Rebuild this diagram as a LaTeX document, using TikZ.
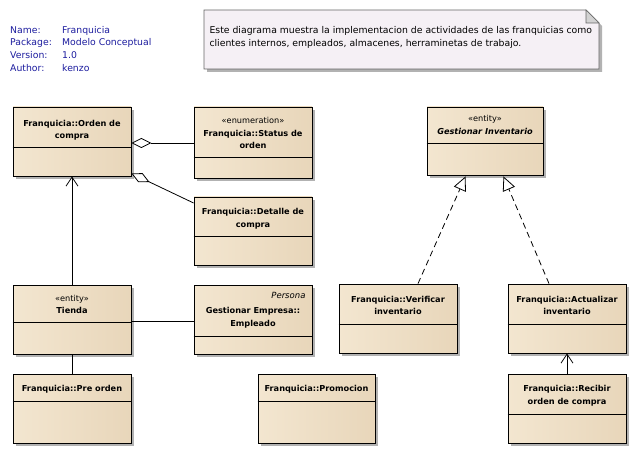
\documentclass[tikz,border=0pt]{standalone}
\usepackage{fontspec}
\setmainfont{DejaVu Sans}
\usetikzlibrary{shadows,arrows.meta}

\definecolor{cajaizq}{HTML}{F3E6D0}
\definecolor{cajamed}{HTML}{FAF2E6}
\definecolor{cajader}{HTML}{E8D6BA}
\definecolor{notafondo}{HTML}{F5F0F5}
\definecolor{azulmeta}{HTML}{1C1C9E}

\begin{document}
\begin{tikzpicture}[x=1pt,y=-1pt,
  clase/.style={draw, line width=0.8pt, minimum width=118, minimum height=69,
    left color=cajaizq, middle color=cajamed, right color=cajader,
    drop shadow={shadow xshift=3pt, shadow yshift=-3pt, fill=black, opacity=0.3}},
  titulo/.style={align=center, font=\fontsize{8.2}{12.5}\selectfont\bfseries},
  linea/.style={line width=0.8pt},
  agregacion/.style={line width=0.8pt, {Diamond[fill=white, length=20pt, width=10pt, line width=0.8pt]}-},
  asociacion/.style={line width=0.8pt, -{Straight Barb[length=9pt, width=12pt, line width=0.8pt]}},
  realizacion/.style={line width=0.8pt, dash pattern=on 6pt off 4pt,
    -{Triangle[open, fill=white, length=14pt, width=13pt, line width=0.8pt, sep]}}]
\useasboundingbox (0,0) rectangle (636,454);

% datos del diagrama
\node[anchor=north west, inner sep=0, text=azulmeta, font=\fontsize{9.3}{12.7}\selectfont] (meta) at (10,24)
  {\begin{tabular}{@{}p{52pt}@{}l@{}}
  Name: & Franquicia\\
  Package: & Modelo Conceptual\\
  Version: & 1.0\\
  Author: & kenzo
  \end{tabular}};

% nota
\path[draw=gray!80!black, line width=0.8pt, fill=notafondo,
  drop shadow={shadow xshift=3pt, shadow yshift=-3pt, fill=black, opacity=0.3}]
  (204,10) -- (586,10) -- (599,23) -- (599,69) -- (204,69) -- cycle;
\path[draw=gray!80!black, line width=0.6pt, fill=gray!35] (586,10) -- (586,23) -- (599,23) -- cycle;
\node[anchor=west, align=left, font=\fontsize{9.3}{12.5}\selectfont] (nota) at (206,37.5)
  {Este diagrama muestra la implementacion de actividades de las franquicias como\\
   clientes internos, empleados, almacenes, herraminetas de trabajo.};

% clases
\node[clase] (orden) at (72,141.5) {};
\node[clase, minimum height=71] (status) at (253,142.5) {};
\node[clase, minimum height=68] (detalle) at (253,231) {};
\node[clase, minimum width=116, minimum height=68] (gestionar) at (485,141) {};
\node[clase] (tienda) at (72,319.5) {};
\node[clase] (empleado) at (253,319.5) {};
\node[clase] (preorden) at (72,408.5) {};
\node[clase, minimum width=117] (promocion) at (316.5,408.5) {};
\node[clase] (verificar) at (398,318.5) {};
\node[clase] (actualizar) at (567,318.5) {};
\node[clase] (recibir) at (567,408.5) {};

\draw[linea] (orden.west |- 0,147) -- (orden.east |- 0,147);
\draw[linea] (status.west |- 0,157) -- (status.east |- 0,157);
\draw[linea] (detalle.west |- 0,236) -- (detalle.east |- 0,236);
\draw[linea] (gestionar.west |- 0,143) -- (gestionar.east |- 0,143);
\draw[linea] (tienda.west |- 0,322) -- (tienda.east |- 0,322);
\draw[linea] (empleado.west |- 0,336) -- (empleado.east |- 0,336);
\draw[linea] (preorden.west |- 0,401) -- (preorden.east |- 0,401);
\draw[linea] (promocion.west |- 0,401) -- (promocion.east |- 0,401);
\draw[linea] (verificar.west |- 0,324) -- (verificar.east |- 0,324);
\draw[linea] (actualizar.west |- 0,324) -- (actualizar.east |- 0,324);
\draw[linea] (recibir.west |- 0,414) -- (recibir.east |- 0,414);

\node[titulo] (t-orden) at (72,130) {Franquicia::Orden de\\compra};
\node[titulo] (t-status) at (253,133) {{\mdseries «enumeration»}\\Franquicia::Status de\\orden};
\node[titulo] (t-detalle) at (253,218.5) {Franquicia::Detalle de\\compra};
\node[titulo] (t-gestionar) at (485,125) {{\mdseries «entity»}\\\itshape Gestionar Inventario};
\node[titulo] (t-tienda) at (72,304.5) {{\mdseries «entity»}\\Tienda};
\node[titulo, anchor=east, font=\fontsize{8.5}{12.5}\selectfont\itshape] (t-persona) at (309,295) {Persona};
\node[titulo] (t-empleado) at (253,317.5) {Gestionar Empresa::\\Empleado};
\node[titulo] (t-preorden) at (72,389) {Franquicia::Pre orden};
\node[titulo] (t-promocion) at (316.5,389) {Franquicia::Promocion};
\node[titulo] (t-verificar) at (398,305.5) {Franquicia::Verificar\\inventario};
\node[titulo] (t-actualizar) at (567,305.5) {Franquicia::Actualizar\\inventario};
\node[titulo] (t-recibir) at (567,395.5) {Franquicia::Recibir\\orden de compra};

% relaciones
\draw[agregacion] (orden.east |- 0,143) -- (status.west |- 0,143);
\draw[agregacion] ([yshift=3pt]orden.south east) -- (detalle.west |- 0,203);
\draw[asociacion] (tienda) -- (orden);
\draw[linea] (tienda.east |- 0,321) -- (empleado.west |- 0,321);
\draw[linea] (tienda) -- (preorden);
\draw[realizacion] (verificar.north -| 418,0) -- (gestionar.south -| 466,0);
\draw[realizacion] (actualizar.north -| 549,0) -- (gestionar.south -| 503,0);
\draw[asociacion] (recibir) -- (actualizar);
\end{tikzpicture}
\end{document}
